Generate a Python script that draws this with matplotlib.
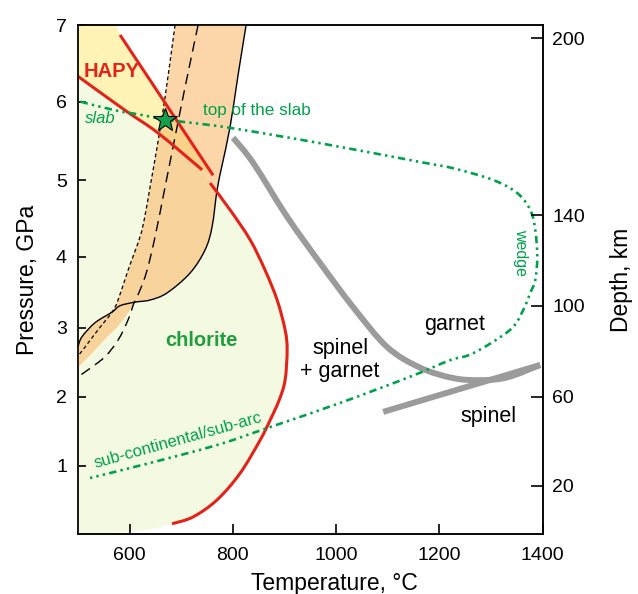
import numpy as np
import matplotlib
matplotlib.use('Agg')
import matplotlib.pyplot as plt
from matplotlib.path import Path
from matplotlib.patches import PathPatch

plt.rcParams['font.family'] = ['Liberation Sans', 'DejaVu Sans']

# ---- phase boundaries (T in degC, P in GPa) ----
# black band: solid, dotted and dashed limits
solid_T = [825.5, 810, 794.5, 779, 769.3, 759.6, 746.1, 717, 672.4, 639.5, 610.4, 581.4, 565.9, 532.9, 507.8, 500]
solid_P = [7.0, 6.35, 5.68, 5.19, 4.87, 4.39, 4.09, 3.77, 3.49, 3.39, 3.36, 3.31, 3.22, 3.07, 2.87, 2.73]
dotted_T = [687.9, 668.6, 653.1, 639.5, 629.8, 620.1, 596.9, 577.5, 565.9, 538.8, 513.6, 500]
dotted_P = [7.0, 6.06, 5.42, 4.91, 4.54, 4.26, 3.81, 3.39, 3.22, 2.97, 2.72, 2.59]
dashed_T = [732.5, 707.3, 687.9, 668.6, 649.2, 633.7, 620.1, 608.5, 596.9, 577.5, 552.3, 519.4, 500]
dashed_P = [7.0, 6.19, 5.55, 4.91, 4.26, 3.81, 3.53, 3.35, 3.11, 2.82, 2.58, 2.39, 2.29]
# lower edge of the shaded band (no line drawn)
band_edge_T = [610.4, 596.9, 577.5, 558.1, 527.1, 500]
band_edge_P = [3.36, 3.21, 3.02, 2.88, 2.63, 2.43]

# HAPY field limits
hapy_low_T = [500, 591.1, 655, 740.3]
hapy_low_P = [6.33, 5.89, 5.60, 5.13]
hapy_up_T = [581.4, 761.6]
hapy_up_P = [6.87, 5.06]
hapy_top_T = 574  # where the HAPY field meets the top of the plot

# chlorite-out curve and the base of the chlorite field
chl_T = [755.8, 794.5, 833.3, 862.3, 885.6, 901, 905, 901, 889.5, 872, 852.6, 813.9, 769.3, 722.8, 682]
chl_P = [4.96, 4.61, 4.22, 3.81, 3.39, 2.97, 2.68, 2.24, 1.95, 1.66, 1.37, 0.89, 0.50, 0.25, 0.15]
chl_base_T = [682, 640, 595, 550, 500]
chl_base_P = [0.15, 0.07, 0.03, 0.01, 0.0]

# slab-top / wedge / sub-arc geotherm
geo_T = [505, 571.7, 624, 668.6, 720.9, 800.3, 968.9, 1162.7, 1226.6, 1304.1, 1350.6, 1375.8,
         1385.5, 1389.4, 1385.5, 1375.8, 1362.2, 1337, 1265.4, 1220.8, 1143.3, 1007.7, 872,
         769.3, 639.5, 523.3]
geo_P = [6.0, 5.89, 5.83, 5.77, 5.73, 5.66, 5.47, 5.23, 5.15, 5.0, 4.83, 4.61,
         4.35, 4.0, 3.67, 3.49, 3.25, 2.97, 2.63, 2.53, 2.29, 1.91, 1.56,
         1.30, 1.04, 0.82]

# garnet-in and spinel-out
garnet_T = [800.3, 839.1, 905, 968.9, 1032.8, 1098.7, 1162.7, 1226.6, 1278.9, 1331.2, 1395]
garnet_P = [5.54, 5.22, 4.52, 3.91, 3.29, 2.72, 2.42, 2.27, 2.24, 2.28, 2.46]
spinel_T = [1091, 1395]
spinel_P = [1.78, 2.46]

star_T, star_P = 668.6, 5.77

x_ticks = [600, 800, 1000, 1200, 1400]
p_ticks = [1, 2, 3, 4, 5, 6, 7]
depth_km = [20, 60, 100, 140, 200]
depth_gpa = [0.707, 2.0, 3.31, 4.54, 6.83]

# non-linear pressure axis: height of each GPa step along the axis
AXIS_GPA = [-10, 0, 1, 2, 3, 4, 5, 6, 7, 17]
AXIS_POS = [-683, 0, 68.3, 137.3, 206.3, 277.3, 354, 432.3, 509, 1276]


def p_fwd(p):
    return np.interp(p, AXIS_GPA, AXIS_POS)


def p_inv(y):
    return np.interp(y, AXIS_POS, AXIS_GPA)


def curve(T, P, smooth=True):
    """Path pieces through the points; Catmull-Rom as Bezier segments if smooth."""
    x = np.asarray(T, float)
    y = p_fwd(np.asarray(P, float))
    verts = [(x[0], y[0])]
    codes = [Path.MOVETO]
    if not smooth or len(x) < 3:
        for i in range(1, len(x)):
            verts.append((x[i], y[i]))
            codes.append(Path.LINETO)
    else:
        px = np.r_[x[0], x, x[-1]]
        py = np.r_[y[0], y, y[-1]]
        for i in range(1, len(x)):
            c1 = (px[i] + (px[i + 1] - px[i - 1]) / 6, py[i] + (py[i + 1] - py[i - 1]) / 6)
            c2 = (px[i + 1] - (px[i + 2] - px[i]) / 6, py[i + 1] - (py[i + 2] - py[i]) / 6)
            verts += [c1, c2, (px[i + 1], py[i + 1])]
            codes += [Path.CURVE4] * 3
    verts = np.array(verts)
    verts[:, 1] = p_inv(verts[:, 1])
    return verts, codes


def join(*pieces):
    verts, codes = [], []
    for k, (v, c) in enumerate(pieces):
        c = list(c)
        if k > 0:
            c[0] = Path.LINETO
        verts.append(v)
        codes += c
    verts = np.vstack(verts + [verts[0][:1]])
    codes.append(Path.CLOSEPOLY)
    return Path(verts, codes)


def draw_curve(ax, T, P, smooth=True, **kw):
    v, c = curve(T, P, smooth)
    ax.add_patch(PathPatch(Path(v, c), fill=False, **kw))


RED = '#E2231A'
GREEN = '#00A14B'
GRAY = '#9B9B9B'

fig = plt.figure(figsize=(6.38, 5.94), dpi=100)
ax = fig.add_axes([0.1223, 0.1010, 0.7284, 0.8569])
ax.set_yscale('function', functions=(p_fwd, p_inv))
ax.set_xlim(500, 1400)
ax.set_ylim(0, 7)

# chlorite field
chl_path = join(curve([500, 500], [0.0, hapy_low_P[0]], False),
                curve(hapy_low_T, hapy_low_P),
                curve(chl_T, chl_P),
                curve(chl_base_T, chl_base_P))
ax.add_patch(PathPatch(chl_path, fc='#F4F9E1', lw=0, zorder=1))

# HAPY field
hapy_path = join(curve([500, hapy_top_T], [7.0, 7.0], False),
                 curve(hapy_up_T, hapy_up_P, False),
                 curve(hapy_low_T[::-1], hapy_low_P[::-1]))
ax.add_patch(PathPatch(hapy_path, fc='#FFF3B5', lw=0, zorder=2))

# shaded band between the dotted and solid limits
band_path = join(curve(solid_T[:11], solid_P[:11]),
                 curve(band_edge_T, band_edge_P),
                 curve(solid_T[15:11:-1], solid_P[15:11:-1]),
                 curve(dotted_T[8::-1], dotted_P[8::-1]))
ax.add_patch(PathPatch(band_path, fc='#FBBB6E', alpha=0.6, lw=0, zorder=3))

draw_curve(ax, solid_T, solid_P, ec='black', lw=1.0, zorder=4)
draw_curve(ax, dotted_T, dotted_P, ec='black', lw=0.9, ls=(0, (3, 2.2)), zorder=4)
draw_curve(ax, dashed_T, dashed_P, ec='black', lw=1.0, ls=(0, (7.5, 4.5)), zorder=4)

draw_curve(ax, hapy_low_T, hapy_low_P, ec=RED, lw=2.2, zorder=5)
draw_curve(ax, hapy_up_T, hapy_up_P, False, ec=RED, lw=2.2, zorder=5)
draw_curve(ax, chl_T, chl_P, ec=RED, lw=2.2, zorder=5)

draw_curve(ax, garnet_T, garnet_P, ec=GRAY, lw=4.3, capstyle='butt', zorder=5)
draw_curve(ax, spinel_T, spinel_P, False, ec=GRAY, lw=4.3, capstyle='butt', zorder=5)

draw_curve(ax, geo_T, geo_P, ec=GREEN, lw=1.9,
           ls=(0, (2.8, 1.6, 0.9, 1.6, 0.9, 1.6)), zorder=6)

ax.plot([star_T], [star_P], marker='*', ms=18, mfc='#12A04C', mec='black', mew=0.8, zorder=7)

# labels inside the diagram
ax.text(565.9, 6.39, 'HAPY', color=RED, fontsize=14.5, fontweight='bold', ha='center', va='center', zorder=8)
ax.text(542.6, 5.79, 'slab', color=GREEN, fontsize=12, style='italic', ha='center', va='center', zorder=8)
ax.text(846.8, 5.89, 'top of the slab', color=GREEN, fontsize=12.3, ha='center', va='center', zorder=8)
ax.text(738.3, 2.82, 'chlorite', color='#1E9E3C', fontsize=14.5, fontweight='bold', ha='center', va='center', zorder=8)
ax.text(1007.7, 2.53, 'spinel\n+ garnet', fontsize=15.5, ha='center', va='center', linespacing=1.15, zorder=8)
ax.text(1228.5, 3.04, 'garnet', fontsize=15.5, ha='center', va='center', zorder=8)
ax.text(1294.4, 1.71, 'spinel', fontsize=15.5, ha='center', va='center', zorder=8)
ax.text(1356.4, 4.06, 'wedge', color=GREEN, fontsize=11.5, rotation=-90, ha='center', va='center', zorder=8)
ax.text(693.8, 1.36, 'sub-continental/sub-arc', color=GREEN, fontsize=12, rotation=15.5,
        rotation_mode='anchor', ha='center', va='center', zorder=8)

# axes, ticks
ax.set_xticks(x_ticks)
ax.set_yticks(p_ticks)
ax.set_yticklabels([str(p) for p in p_ticks])
ax.yaxis.set_minor_locator(matplotlib.ticker.NullLocator())
ax.tick_params(axis='x', direction='in', length=7, width=1.2, labelsize=14, pad=9)
ax.tick_params(axis='y', direction='in', length=6, width=1.2, labelsize=14, pad=8)
for s in ax.spines.values():
    s.set_linewidth(1.1)
ax.spines['left'].set_color('#555555')

ax.set_xlabel('Temperature, °C', fontsize=16.5)
ax.xaxis.set_label_coords(0.551, -0.075)
ax.set_ylabel('Pressure, GPa', fontsize=16.5)
ax.yaxis.set_label_coords(-0.084, 0.5)

ax2 = ax.twinx()
ax2.set_yscale('function', functions=(p_fwd, p_inv))
ax2.set_ylim(0, 7)
ax2.set_yticks(depth_gpa)
ax2.set_yticklabels([str(d) for d in depth_km])
ax2.yaxis.set_minor_locator(matplotlib.ticker.NullLocator())
ax2.tick_params(axis='y', direction='in', length=9, width=1.2, labelsize=14, pad=7)
for s in ax2.spines.values():
    s.set_linewidth(1.1)
ax2.set_ylabel('Depth, km', fontsize=16.5)
ax2.yaxis.set_label_coords(1.145, 0.5)

fig.savefig('out.png', dpi=100)
